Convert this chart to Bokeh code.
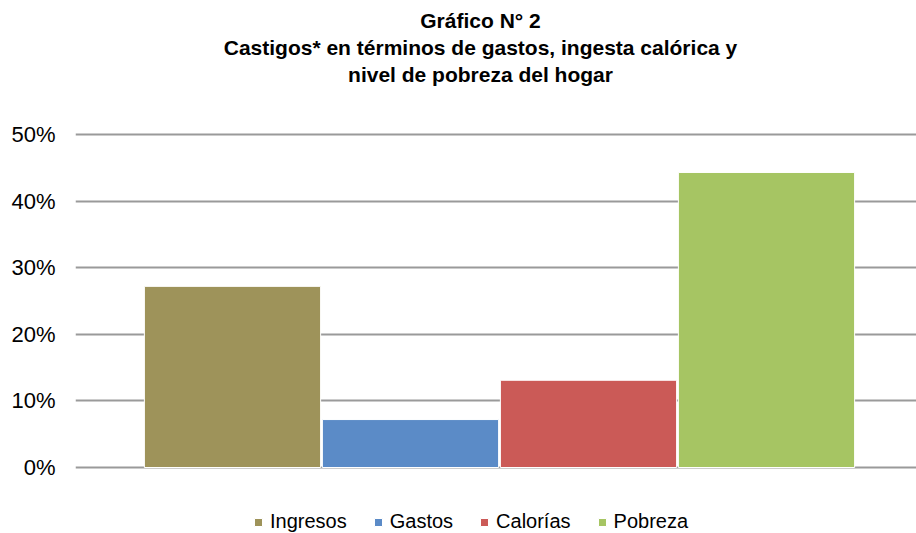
from bokeh.plotting import figure
from bokeh.models import ColumnDataSource, Label, Legend, LegendItem, NumeralTickFormatter, Range1d, FixedTicker
from bokeh.embed import file_html
from bokeh.resources import INLINE

categories = ["Ingresos", "Gastos", "Calorías", "Pobreza"]
values = [0.272, 0.072, 0.131, 0.443]
colors = ["#9E935A", "#5B8BC7", "#CB5A57", "#A6C563"]
y_ticks = [0, 0.1, 0.2, 0.3, 0.4, 0.5]
title_lines = ["Gráfico N° 2",
               "Castigos* en términos de gastos, ingesta calórica y",
               "nivel de pobreza del hogar"]

FONT = "Liberation Sans"

# pixel layout helpers (frame spans x 75..916, y 0..533; 0% at y=467, 50% at y=134)
FL, FR, FT, FB = 75, 916, 0, 533
Y0, Y50 = 467, 134
PPU = (Y0 - Y50) / 0.5          # pixels per unit on y
BAR_STEP = 178                   # pixels per category
X0 = 232                         # pixel centre of first bar

def px_to_y(py):
    return (Y0 - py) / PPU

def px_to_x(px):
    return (px - X0) / BAR_STEP

p = figure(width=916, height=533, output_backend="svg", toolbar_location=None,
           x_range=Range1d(px_to_x(FL), px_to_x(FR)),
           y_range=Range1d(px_to_y(FB), px_to_y(FT)),
           min_border_left=FL, min_border_right=0, min_border_top=0, min_border_bottom=0)
p.outline_line_color = None

for line, py in zip(title_lines, [20, 47, 74]):
    p.add_layout(Label(x=px_to_x(480), y=px_to_y(py), text=line, text_align="center",
                       text_baseline="middle", text_font=FONT, text_font_size="21px",
                       text_font_style="bold", text_color="#000000"))

items = []
for i, (cat, v, c) in enumerate(zip(categories, values, colors)):
    src = ColumnDataSource(dict(x=[i], top=[v]))
    r = p.vbar(x="x", top="top", bottom=0, width=0.99, source=src,
               fill_color=c, line_color="white", line_width=1)
    items.append(LegendItem(label=cat, renderers=[r]))

legend = Legend(items=items, orientation="horizontal", location=(178, 0),
                label_text_font=FONT, label_text_font_size="20px", label_text_color="#000000",
                glyph_width=10, glyph_height=10, spacing=26, label_standoff=7,
                border_line_color=None, background_fill_alpha=0, padding=0, margin=0)
p.add_layout(legend, "center")

p.xaxis.visible = False
p.yaxis.ticker = FixedTicker(ticks=y_ticks)
p.yaxis.formatter = NumeralTickFormatter(format="0%")
p.yaxis.axis_line_color = None
p.yaxis.major_tick_line_color = None
p.yaxis.minor_tick_line_color = None
p.yaxis.major_label_standoff = 14
p.yaxis.major_label_text_font = FONT
p.yaxis.major_label_text_font_size = "22px"
p.yaxis.major_label_text_color = "#000000"

p.xgrid.visible = False
p.ygrid.ticker = FixedTicker(ticks=y_ticks)
p.ygrid.grid_line_color = "#9a9a9a"
p.ygrid.grid_line_width = 2

open("out.html", "w").write(file_html(p, INLINE))
